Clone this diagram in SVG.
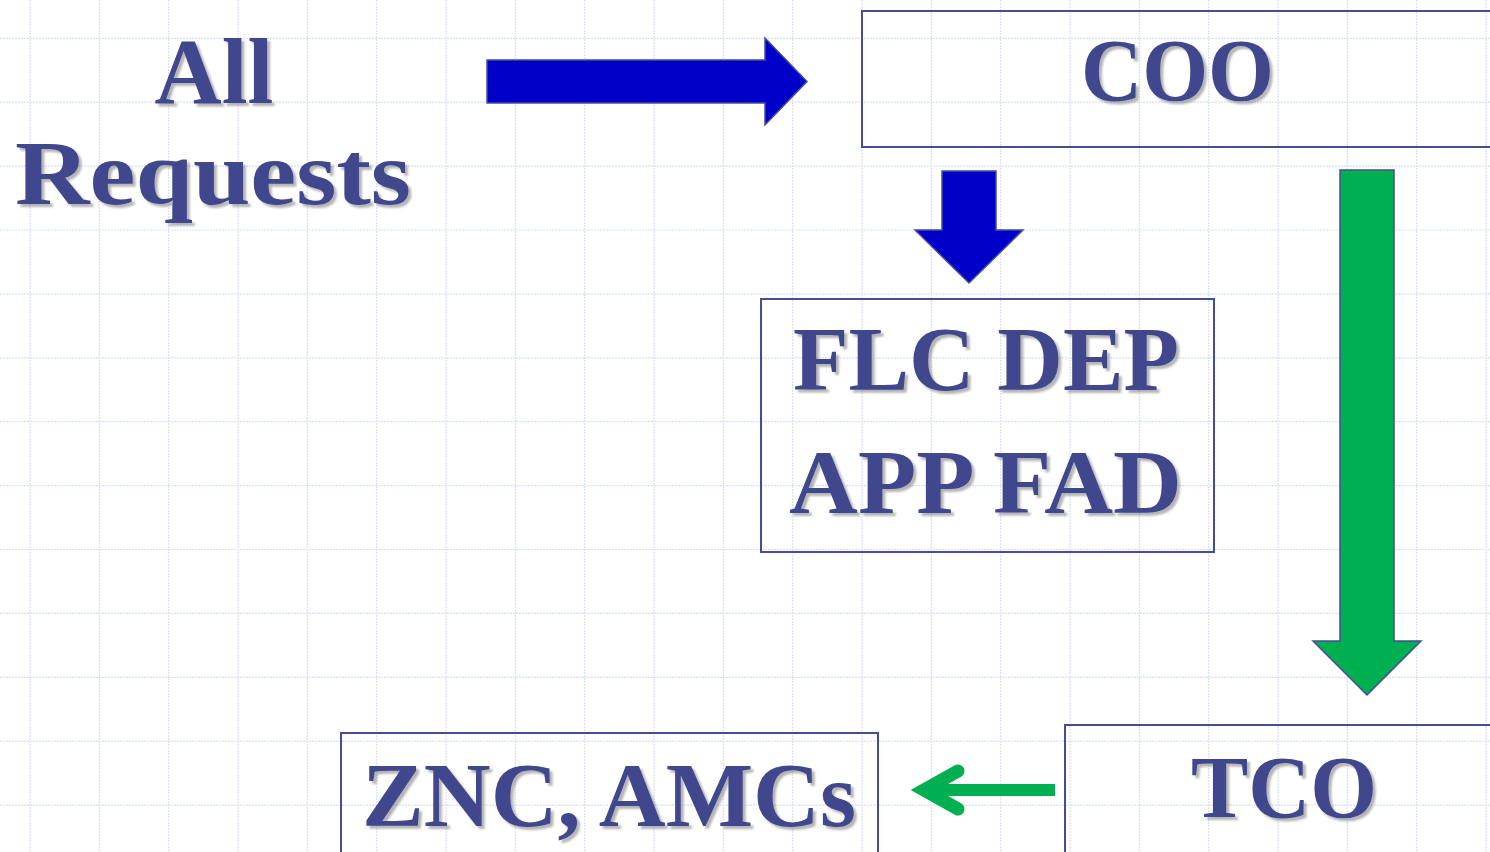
<svg xmlns="http://www.w3.org/2000/svg" width="1490" height="852" viewBox="0 0 1490 852">
<style>
.grid line{stroke:#d6dff9;stroke-width:1.2;stroke-dasharray:2 1}
.box{fill:none;stroke:#464c98;stroke-width:2}
.lbl{font-family:"Liberation Serif","Times New Roman",serif;font-weight:bold;fill:#40478c;text-anchor:middle;filter:url(#sh)}
.blue{fill:#0000c8;stroke:#464c98;stroke-width:1.5}
.green{fill:#00b050;stroke:#464c98;stroke-width:1.5}
</style>
<defs>
<filter id="sh" x="-10%" y="-20%" width="130%" height="150%">
<feDropShadow dx="3" dy="3" stdDeviation="1.2" flood-color="#777" flood-opacity="0.55"/>
</filter>
</defs>
<rect width="1490" height="852" fill="#ffffff"/>
<g class="grid">
<line x1="30" y1="0" x2="30" y2="852"/><line x1="99.3" y1="0" x2="99.3" y2="852"/><line x1="168.7" y1="0" x2="168.7" y2="852"/><line x1="238" y1="0" x2="238" y2="852"/><line x1="307.3" y1="0" x2="307.3" y2="852"/><line x1="376.7" y1="0" x2="376.7" y2="852"/><line x1="446" y1="0" x2="446" y2="852"/><line x1="515.3" y1="0" x2="515.3" y2="852"/><line x1="584.7" y1="0" x2="584.7" y2="852"/><line x1="654" y1="0" x2="654" y2="852"/><line x1="723.3" y1="0" x2="723.3" y2="852"/><line x1="792.7" y1="0" x2="792.7" y2="852"/><line x1="862" y1="0" x2="862" y2="852"/><line x1="931.3" y1="0" x2="931.3" y2="852"/><line x1="1000.7" y1="0" x2="1000.7" y2="852"/><line x1="1070" y1="0" x2="1070" y2="852"/><line x1="1139.3" y1="0" x2="1139.3" y2="852"/><line x1="1208.7" y1="0" x2="1208.7" y2="852"/><line x1="1278" y1="0" x2="1278" y2="852"/><line x1="1347.3" y1="0" x2="1347.3" y2="852"/><line x1="1416.7" y1="0" x2="1416.7" y2="852"/><line x1="1486" y1="0" x2="1486" y2="852"/>
<line x1="0" y1="38.3" x2="1490" y2="38.3"/><line x1="0" y1="102.2" x2="1490" y2="102.2"/><line x1="0" y1="166.1" x2="1490" y2="166.1"/><line x1="0" y1="230" x2="1490" y2="230"/><line x1="0" y1="293.9" x2="1490" y2="293.9"/><line x1="0" y1="357.8" x2="1490" y2="357.8"/><line x1="0" y1="421.7" x2="1490" y2="421.7"/><line x1="0" y1="485.6" x2="1490" y2="485.6"/><line x1="0" y1="549.5" x2="1490" y2="549.5"/><line x1="0" y1="613.4" x2="1490" y2="613.4"/><line x1="0" y1="677.3" x2="1490" y2="677.3"/><line x1="0" y1="741.2" x2="1490" y2="741.2"/><line x1="0" y1="805.1" x2="1490" y2="805.1"/>
</g>
<g id="connectors">
<polygon class="blue" points="487,60 765,60 765,38 807,81.5 765,125 765,103 487,103"/>
<polygon class="blue" points="942,171 996,171 996,230 1023,230 969,283 915,230 942,230"/>
<polygon class="green" points="1340,170 1394,170 1394,641 1421,641 1367,695 1313,641 1340,641"/>
<line x1="1055" y1="790" x2="932" y2="790" stroke="#00b050" stroke-width="12"/>
<path d="M958,771 L924,790 L958,809" fill="none" stroke="#00b050" stroke-width="13" stroke-linecap="round" stroke-linejoin="miter" stroke-miterlimit="10"/>
</g>
<g id="all-requests">
<text class="lbl" x="214" y="103" font-size="94" textLength="119" lengthAdjust="spacingAndGlyphs">All</text>
<text class="lbl" x="213" y="204" font-size="92" textLength="396" lengthAdjust="spacingAndGlyphs">Requests</text>
</g>
<g id="coo">
<rect class="box" x="862" y="11" width="640" height="136"/>
<text class="lbl" x="1177.5" y="100" font-size="88" textLength="193" lengthAdjust="spacingAndGlyphs">COO</text>
</g>
<g id="flc">
<rect class="box" x="761" y="299" width="453" height="253"/>
<text class="lbl" x="986" y="390" font-size="91" textLength="386" lengthAdjust="spacingAndGlyphs">FLC DEP</text>
<text class="lbl" x="985.5" y="513" font-size="91" textLength="393" lengthAdjust="spacingAndGlyphs">APP FAD</text>
</g>
<g id="tco">
<rect class="box" x="1065" y="725" width="440" height="140"/>
<text class="lbl" x="1284" y="817" font-size="88" textLength="186" lengthAdjust="spacingAndGlyphs">TCO</text>
</g>
<g id="znc">
<rect class="box" x="341" y="733" width="537" height="130"/>
<text class="lbl" x="609" y="826" font-size="91" textLength="494" lengthAdjust="spacingAndGlyphs">ZNC, AMCs</text>
</g>
</svg>
